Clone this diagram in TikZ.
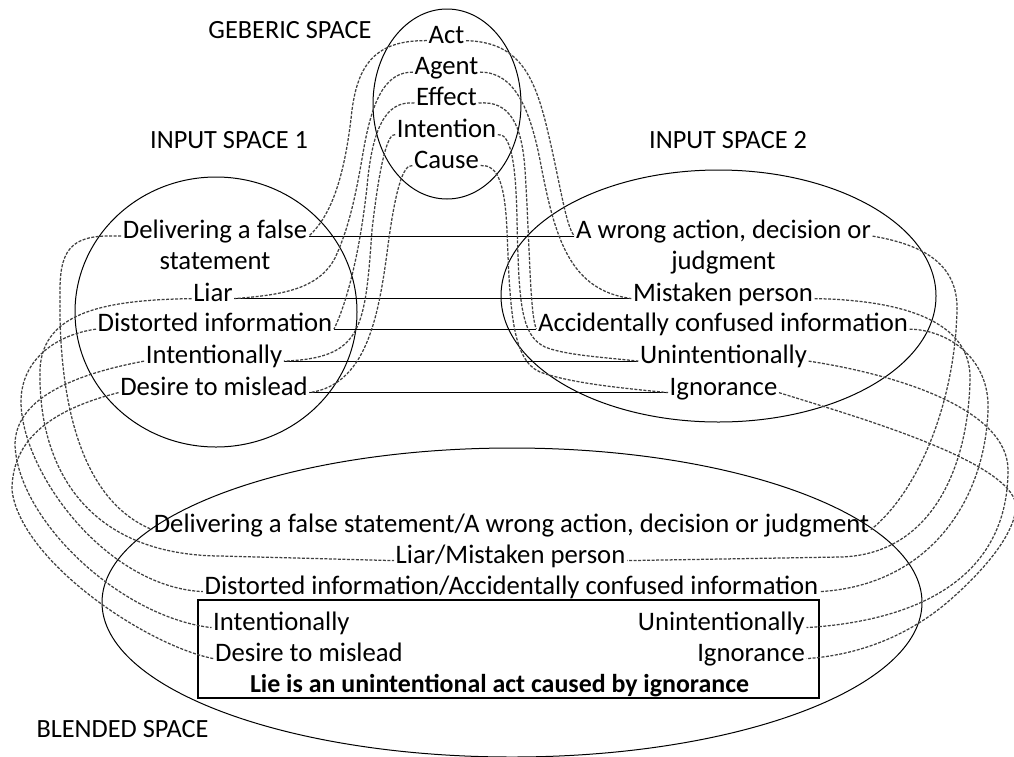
\documentclass[tikz,border=0pt]{standalone}
\usepackage{fontspec}
\setmainfont{Carlito}
\usetikzlibrary{shapes.geometric}
\begin{document}
\begin{tikzpicture}[x=1pt,y=-1pt,
  txt/.style={font=\fontsize{26.7}{31}\selectfont, inner xsep=1.5pt, inner ysep=1pt, anchor=base},
  lbl/.style={font=\fontsize{26.3}{30}\selectfont, inner sep=0pt, anchor=base},
  space/.style={draw, line width=1pt, ellipse, inner sep=0pt},
  dline/.style={line width=1.25pt, dash pattern=on 3pt off 1.5pt, black!75},
  sline/.style={line width=1.2pt},
  boxstyle/.style={draw, line width=1.2pt, inner sep=0pt}
]
\useasboundingbox (0,0) rectangle (1014,756);

% spaces
\node[space, minimum width=148pt, minimum height=190pt] (generic) at (447,104) {};
\node[space, minimum width=282pt, minimum height=270pt] (input1) at (216,312) {};
\node[space, minimum width=435pt, minimum height=252pt] (input2) at (718.5,296) {};
\node[space, minimum width=820pt, minimum height=309pt] (blended) at (512,602.5) {};
\node[boxstyle, minimum width=621pt, minimum height=98pt] (box) at (508.5,649) {};

% labels
\node[lbl] (lgen) at (290,38) {GEBERIC SPACE};
\node[lbl] (lin1) at (229,148) {INPUT SPACE 1};
\node[lbl] (lin2) at (728,148) {INPUT SPACE 2};
\node[lbl] (lbl4) at (122.5,737) {BLENDED SPACE};

% generic space
\node[txt] (act) at (446.5,43) {Act};
\node[txt] (agent) at (446.5,74.5) {Agent};
\node[txt] (effect) at (446.5,105.5) {Effect};
\node[txt] (intention) at (446.5,137) {Intention};
\node[txt] (cause) at (446.5,168) {Cause};

% input space 1
\node[txt] (del1) at (215,238.5) {Delivering a false};
\node[txt] (del1b) at (215,269.5) {statement};
\node[txt] (liar) at (213,301) {Liar};
\node[txt] (dist) at (215,331.5) {Distorted information};
\node[txt] (int1) at (214,363.5) {Intentionally};
\node[txt] (des1) at (214,395) {Desire to mislead};

% input space 2
\node[txt] (aw) at (723.5,238.5) {A wrong action, decision or};
\node[txt] (awb) at (723.5,269.5) {judgment};
\node[txt] (mp) at (723,301) {Mistaken person};
\node[txt] (ac) at (723,331.5) {Accidentally confused information};
\node[txt] (un1) at (723.5,363.5) {Unintentionally};
\node[txt] (ig1) at (723.5,395) {Ignorance};

% blended space
\node[txt] (b1) at (511.5,532) {Delivering a false statement/A wrong action, decision or judgment};
\node[txt] (b2) at (510.5,563) {Liar/Mistaken person};
\node[txt] (b3) at (511.5,594) {Distorted information/Accidentally confused information};
\node[txt, anchor=base west] (int2) at (211.5,630) {Intentionally};
\node[txt, anchor=base west] (des2) at (213.5,661) {Desire to mislead};
\node[txt, anchor=base east] (un2) at (806.5,630) {Unintentionally};
\node[txt, anchor=base east] (ig2) at (806.5,661) {Ignorance};
\node[txt, font=\fontsize{25.9}{30}\selectfont\bfseries] (lie) at (499.5,692) {Lie is an unintentional act caused by ignorance};

% solid links between input spaces
\draw[sline] (del1.mid east) -- (aw.mid west);
\draw[sline] (liar.mid east) -- (mp.mid west);
\draw[sline] (dist.mid east) -- (ac.mid west);
\draw[sline] (int1.mid east) -- (un1.mid west);
\draw[sline] (des1.mid east) -- (ig1.mid west);

% generic -> input 1
\draw[dline] (act.mid west) .. controls (375,40) and (358,65) .. (352,110)
  .. controls (345,175) and (332,215) .. (del1.mid east);
\draw[dline] (agent.mid west) .. controls (385,72) and (372,100) .. (363,153)
  .. controls (355,200) and (348,230) .. (335,258)
  .. controls (318,290) and (280,295) .. (liar.mid east);
\draw[dline] (effect.mid west) .. controls (385,100) and (372,130) .. (367,187)
  .. controls (360,250) and (348,300) .. (dist.mid east);
\draw[dline] (intention.mid west) .. controls (388,133) and (380,160) .. (372,230)
  .. controls (365,330) and (362,358) .. (int1.mid east);
\draw[dline] (cause.mid west) .. controls (403,164) and (395,190) .. (387,253)
  .. controls (378,320) and (365,385) .. (des1.mid east);

% generic -> input 2
\draw[dline] (act.mid east) .. controls (515,42) and (532,70) .. (545,120)
  .. controls (560,180) and (565,225) .. (aw.mid west);
\draw[dline] (agent.mid east) .. controls (515,72) and (530,110) .. (540,160)
  .. controls (555,240) and (570,290) .. (mp.mid west);
\draw[dline] (effect.mid east) .. controls (510,100) and (522,125) .. (525,170)
  .. controls (530,250) and (530,315) .. (ac.mid west);
\draw[dline] (intention.mid east) .. controls (510,133) and (516,160) .. (517,220)
  .. controls (519,300) and (520,335) .. (545,347)
  .. controls (565,355) and (600,357) .. (un1.mid west);
\draw[dline] (cause.mid east) .. controls (500,164) and (505,190) .. (507,230)
  .. controls (510,310) and (512,360) .. (540,372)
  .. controls (570,383) and (620,388) .. (ig1.mid west);

% input 1 -> blended
\draw[dline] (del1.mid west) .. controls (75,234) and (60,245) .. (60,290)
  .. controls (58,400) and (80,500) .. (b1.mid west);
\draw[dline] (liar.mid west) .. controls (110,300) and (42,310) .. (40,370)
  .. controls (38,470) and (89,555) .. (220,556) -- (b2.mid west);
\draw[dline] (dist.mid west) .. controls (55,335) and (22,360) .. (21,400)
  .. controls (20,470) and (105,587) .. (b3.mid west);
\draw[dline] (int1.mid west) .. controls (70,375) and (15,400) .. (15,445)
  .. controls (18,520) and (120,617) .. (int2.mid west);
\draw[dline] (des1.mid west) .. controls (50,410) and (12,440) .. (12,490)
  .. controls (20,560) and (145,645) .. (des2.mid west);

% input 2 -> blended
\draw[dline] (aw.mid east) .. controls (925,245) and (958,265) .. (957,310)
  .. controls (955,400) and (920,490) .. (b1.mid east);
\draw[dline] (mp.mid east) .. controls (900,300) and (972,320) .. (970,380)
  .. controls (968,470) and (930,555) .. (840,557) -- (b2.mid east);
\draw[dline] (ac.mid east) .. controls (950,330) and (990,360) .. (988,410)
  .. controls (985,500) and (930,585) .. (b3.mid east);
\draw[dline] (un1.mid east) .. controls (900,375) and (1008,410) .. (1008,470)
  .. controls (1008,570) and (930,620) .. (un2.mid east);
\draw[dline] (ig1.mid east) .. controls (850,415) and (1010,460) .. (1016,505)
  .. controls (1016,530) and (990,565) .. (950,600)
  .. controls (910,635) and (860,655) .. (ig2.mid east);
\end{tikzpicture}
\end{document}
